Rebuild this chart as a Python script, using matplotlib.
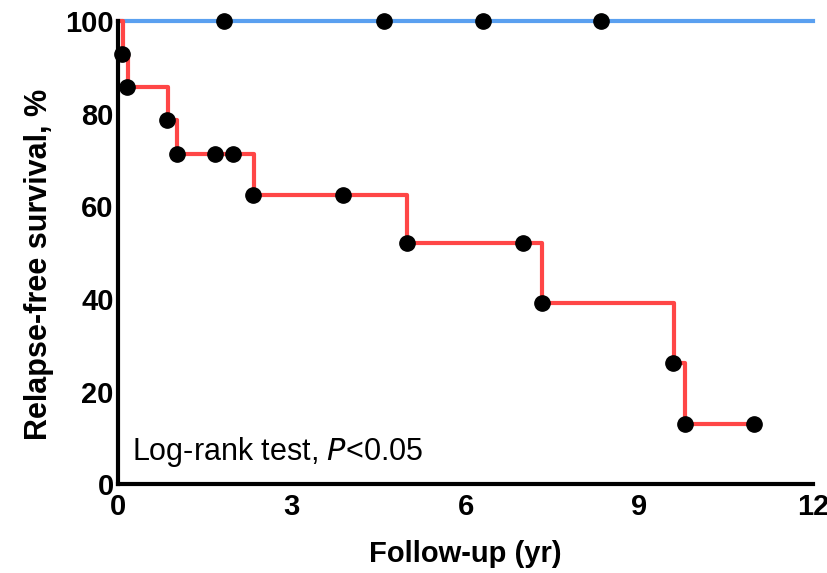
import matplotlib.pyplot as plt

# ===== data =====
# red group: step curve (time of each level start, survival level)
red_step_x = [0, 0.08, 0.18, 0.86, 1.02, 2.35, 4.99, 7.32, 9.60, 9.78, 10.98]
red_step_y = [100, 92.9, 85.7, 78.6, 71.4, 62.5, 52.1, 39.1, 26.1, 13.0, 13.0]
# red group: dot marks
red_dot_x = [0.07, 0.15, 0.85, 1.02, 1.68, 1.99, 2.33, 3.89, 4.99, 7.0, 7.32, 9.59, 9.78, 10.98]
red_dot_y = [92.9, 85.7, 78.6, 71.4, 71.4, 71.4, 62.5, 62.5, 52.1, 52.1, 39.1, 26.1, 13.0, 13.0]

# blue group: no events
blue_step_x = [0, 12]
blue_step_y = [100, 100]
blue_dot_x = [1.83, 4.59, 6.30, 8.34]
blue_dot_y = [100, 100, 100, 100]

x_ticks = [0, 3, 6, 9, 12]
y_ticks = [0, 20, 40, 60, 80, 100]
# ========================================

plt.rcParams['font.family'] = ['Liberation Sans', 'DejaVu Sans']

fig = plt.figure(figsize=(8.28, 5.73), dpi=100)
ax = fig.add_axes([0.1425, 0.155, 0.8395, 0.808])

RED = '#ff4646'
BLUE = '#5aa0f0'

ax.step(blue_step_x, blue_step_y, where='post', color=BLUE, lw=3, clip_on=False, zorder=2)
ax.step(red_step_x, red_step_y, where='post', color=RED, lw=3, clip_on=False, zorder=2)
ax.plot(blue_dot_x, blue_dot_y, 'o', color='black', ms=11, clip_on=False, zorder=3)
ax.plot(red_dot_x, red_dot_y, 'o', color='black', ms=11, clip_on=False, zorder=3)

ax.set_xlim(0, 12)
ax.set_ylim(0, 100)
ax.set_xticks(x_ticks)
ax.set_yticks(y_ticks)
ax.tick_params(length=0, labelsize=21)
ax.tick_params(axis='x', pad=6)
ax.tick_params(axis='y', pad=3)
for lab in ax.get_xticklabels() + ax.get_yticklabels():
    lab.set_fontweight('bold')

for side in ['top', 'right']:
    ax.spines[side].set_visible(False)
for side in ['left', 'bottom']:
    ax.spines[side].set_linewidth(3)
    ax.spines[side].set_zorder(4)

ax.set_xlabel('Follow-up (yr)', fontsize=21, fontweight='bold', labelpad=14)
ax.set_ylabel('Relapse-free survival, %', fontsize=22, fontweight='bold')
ax.yaxis.set_label_coords(-0.092, 0.475)

ax.text(0.25, 7, 'Log-rank test, $\\mathit{P}$<0.05', fontsize=22, va='center', ha='left')

fig.savefig('out.png', dpi=100)
